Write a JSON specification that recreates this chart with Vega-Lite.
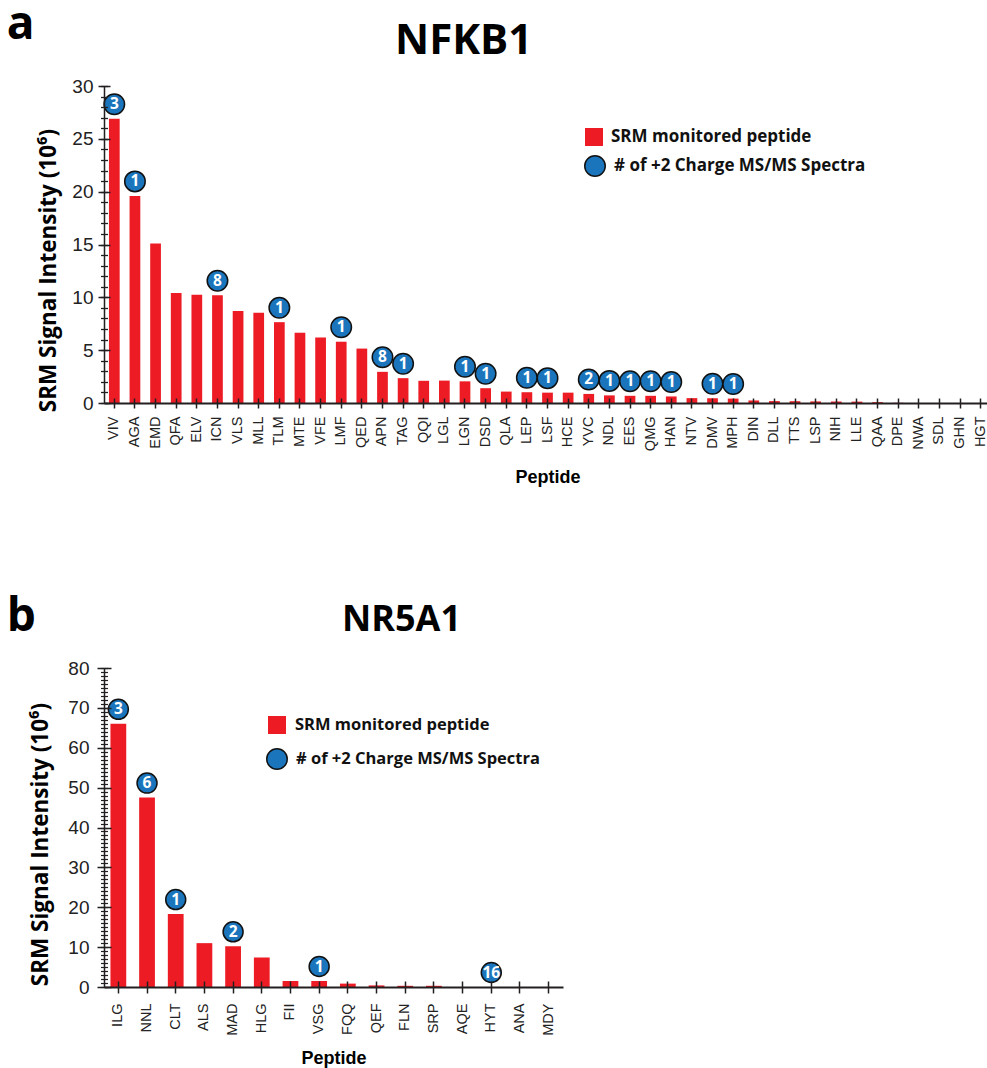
{
  "$schema": "https://vega.github.io/schema/vega-lite/v6.json",
  "padding": {"left": 6, "top": 2, "right": 0, "bottom": 0},
  "background": "white",
  "config": {
    "view": {"stroke": null},
    "axis": {"grid": false},
    "title": {"font": "Open Sans", "fontWeight": "bold", "color": "#000000"}
  },
  "spacing": 107,
  "vconcat": [
    {
      "title": {"text": "a", "anchor": "start", "frame": "bounds", "fontSize": 46, "offset": -29, "dx": -31},
      "vconcat": [
        {
          "title": {"text": "NFKB1", "anchor": "start", "frame": "group", "dx": 291, "fontSize": 42, "offset": 14},
          "width": 887,
          "height": 317,
          "data": {"values": [
            {"peptide": "VIV", "intensity": 26.9, "spectra": 3},
            {"peptide": "AGA", "intensity": 19.6, "spectra": 1},
            {"peptide": "EMD", "intensity": 15.1, "spectra": null},
            {"peptide": "QFA", "intensity": 10.4, "spectra": null},
            {"peptide": "ELV", "intensity": 10.25, "spectra": null},
            {"peptide": "ICN", "intensity": 10.2, "spectra": 8},
            {"peptide": "VLS", "intensity": 8.7, "spectra": null},
            {"peptide": "MLL", "intensity": 8.55, "spectra": null},
            {"peptide": "TLM", "intensity": 7.65, "spectra": 1},
            {"peptide": "MTE", "intensity": 6.65, "spectra": null},
            {"peptide": "VFE", "intensity": 6.2, "spectra": null},
            {"peptide": "LMF", "intensity": 5.8, "spectra": 1},
            {"peptide": "QED", "intensity": 5.15, "spectra": null},
            {"peptide": "APN", "intensity": 2.95, "spectra": 8},
            {"peptide": "TAG", "intensity": 2.35, "spectra": 1},
            {"peptide": "QQI", "intensity": 2.1, "spectra": null},
            {"peptide": "LGL", "intensity": 2.12, "spectra": null},
            {"peptide": "LGN", "intensity": 2.05, "spectra": 1},
            {"peptide": "DSD", "intensity": 1.4, "spectra": 1},
            {"peptide": "QLA", "intensity": 1.08, "spectra": null},
            {"peptide": "LEP", "intensity": 1.02, "spectra": 1},
            {"peptide": "LSF", "intensity": 0.98, "spectra": 1},
            {"peptide": "HCE", "intensity": 0.98, "spectra": null},
            {"peptide": "YVC", "intensity": 0.86, "spectra": 2},
            {"peptide": "NDL", "intensity": 0.72, "spectra": 1},
            {"peptide": "EES", "intensity": 0.68, "spectra": 1},
            {"peptide": "QMG", "intensity": 0.68, "spectra": 1},
            {"peptide": "HAN", "intensity": 0.62, "spectra": 1},
            {"peptide": "NTV", "intensity": 0.46, "spectra": null},
            {"peptide": "DMV", "intensity": 0.45, "spectra": 1},
            {"peptide": "MPH", "intensity": 0.42, "spectra": 1},
            {"peptide": "DIN", "intensity": 0.24, "spectra": null},
            {"peptide": "DLL", "intensity": 0.18, "spectra": null},
            {"peptide": "TTS", "intensity": 0.17, "spectra": null},
            {"peptide": "LSP", "intensity": 0.15, "spectra": null},
            {"peptide": "NIH", "intensity": 0.14, "spectra": null},
            {"peptide": "LLE", "intensity": 0.13, "spectra": null},
            {"peptide": "QAA", "intensity": 0.08, "spectra": null},
            {"peptide": "DPE", "intensity": 0.02, "spectra": null},
            {"peptide": "NWA", "intensity": 0, "spectra": null},
            {"peptide": "SDL", "intensity": 0, "spectra": null},
            {"peptide": "GHN", "intensity": 0, "spectra": null},
            {"peptide": "HGT", "intensity": 0, "spectra": null}
          ]},
          "resolve": {"axis": {"y": "independent"}},
          "layer": [
            {
              "mark": {"type": "bar", "opacity": 1},
              "encoding": {
                "x": {"field": "peptide", "type": "nominal", "sort": null,
                  "scale": {"paddingInner": 0.48, "paddingOuter": 0.24},
                  "axis": {"title": "Peptide", "titleFont": "Liberation Sans", "titleFontSize": 18, "titleFontWeight": "bold", "titleColor": "#000", "titlePadding": 18,
                    "labelAngle": 270, "labelFont": "Liberation Sans", "labelFontSize": 14.5, "labelColor": "#222", "labelPadding": 8,
                    "ticks": true, "tickSize": 5, "tickWidth": 1.5, "tickColor": "#231f20",
                    "grid": true, "gridDash": [5, 4000], "gridDashOffset": -312, "gridColor": "#231f20", "gridWidth": 1.5, "gridOpacity": 1,
                    "zindex": 1, "domainColor": "#231f20", "domainWidth": 2}},
                "y": {"field": "intensity", "type": "quantitative",
                  "scale": {"domain": [0, 30], "nice": false},
                  "axis": {"orient": "left", "values": [0, 5, 10, 15, 20, 25, 30],
                    "ticks": true, "tickSize": 6, "tickWidth": 1.5, "tickColor": "#231f20",
                    "grid": true, "gridDash": [6, 4000], "gridColor": "#231f20", "gridWidth": 1.5, "gridOpacity": 1,
                    "zindex": 1,
                    "labelFont": "Liberation Sans", "labelFontSize": 19, "labelColor": "#222", "labelPadding": 5,
                    "domainColor": "#231f20", "domainWidth": 1.5,
                    "title": "SRM Signal Intensity (10⁶)", "titleFont": "Open Sans", "titleFontSize": 22.5, "titleFontWeight": "bold", "titleColor": "#000", "titleY": 184, "titlePadding": 11}},
                "color": {"datum": "SRM monitored peptide", "type": "nominal",
                  "scale": {"range": ["#ed1c24"]},
                  "legend": {"orient": "none", "legendX": 480, "legendY": 41, "title": null, "padding": 0,
                    "labelFont": "Open Sans", "labelFontSize": 17, "labelFontWeight": "bold", "labelColor": "#111", "labelLimit": 500,
                    "symbolType": "square", "symbolSize": 324, "symbolOpacity": 1, "labelOffset": 7}}
              }
            },
            {
              "transform": [{"filter": "datum.spectra != null"}],
              "mark": {"type": "circle", "size": 420, "opacity": 1, "stroke": "#111111", "strokeWidth": 1.5, "yOffset": -14.5},
              "encoding": {
                "x": {"field": "peptide", "type": "nominal", "sort": null},
                "y": {"field": "intensity", "type": "quantitative",
                  "axis": {"orient": "left", "values": [0,1,2,3,4,5,6,7,8,9,10,11,12,13,14,15,16,17,18,19,20,21,22,23,24,25,26,27,28,29,30],
                    "labels": false, "domain": false, "title": null,
                    "ticks": true, "tickSize": 3.5, "tickWidth": 1.3, "tickColor": "#231f20",
                    "grid": true, "gridDash": [3.5, 4000], "gridColor": "#231f20", "gridWidth": 1.3, "gridOpacity": 1, "zindex": 1}},
                "fill": {"datum": "# of +2 Charge MS/MS Spectra", "type": "nominal",
                  "scale": {"range": ["#1b75bc"]},
                  "legend": {"orient": "none", "legendX": 480, "legendY": 69, "title": null, "padding": 0,
                    "labelFont": "Open Sans", "labelFontSize": 17, "labelFontWeight": "bold", "labelColor": "#111", "labelLimit": 500,
                    "symbolType": "circle", "symbolSize": 420, "symbolOpacity": 1, "symbolStrokeColor": "#111111", "symbolStrokeWidth": 1.5, "labelOffset": 8}}
              }
            },
            {
              "transform": [{"filter": "datum.spectra != null"}],
              "mark": {"type": "text", "color": "white", "font": "Open Sans", "fontWeight": "bold", "fontSize": 15.5, "baseline": "middle", "align": "center", "yOffset": -14.5},
              "encoding": {
                "x": {"field": "peptide", "type": "nominal", "sort": null},
                "y": {"field": "intensity", "type": "quantitative", "axis": null},
                "text": {"field": "spectra", "type": "nominal"}
              }
            }
          ]
        }
      ]
    },
    {
      "title": {"text": "b", "anchor": "start", "frame": "bounds", "fontSize": 46, "offset": -39, "dx": -23},
      "vconcat": [
        {
          "title": {"text": "NR5A1", "anchor": "start", "frame": "group", "dx": 238, "fontSize": 36, "offset": 20},
          "width": 459,
          "height": 319,
          "data": {"values": [
            {"peptide": "ILG", "intensity": 66.0, "spectra": 3},
            {"peptide": "NNL", "intensity": 47.5, "spectra": 6},
            {"peptide": "CLT", "intensity": 18.3, "spectra": 1},
            {"peptide": "ALS", "intensity": 11.0, "spectra": null},
            {"peptide": "MAD", "intensity": 10.2, "spectra": 2},
            {"peptide": "HLG", "intensity": 7.4, "spectra": null},
            {"peptide": "FII", "intensity": 1.5, "spectra": null},
            {"peptide": "VSG", "intensity": 1.5, "spectra": 1},
            {"peptide": "FQQ", "intensity": 0.85, "spectra": null},
            {"peptide": "QEF", "intensity": 0.4, "spectra": null},
            {"peptide": "FLN", "intensity": 0.3, "spectra": null},
            {"peptide": "SRP", "intensity": 0.3, "spectra": null},
            {"peptide": "AQE", "intensity": 0, "spectra": null},
            {"peptide": "HYT", "intensity": 0, "spectra": 16},
            {"peptide": "ANA", "intensity": 0, "spectra": null},
            {"peptide": "MDY", "intensity": 0, "spectra": null}
          ]},
          "resolve": {"axis": {"y": "independent"}},
          "layer": [
            {
              "mark": {"type": "bar", "opacity": 1},
              "encoding": {
                "x": {"field": "peptide", "type": "nominal", "sort": null,
                  "scale": {"paddingInner": 0.45, "paddingOuter": 0.225},
                  "axis": {"title": "Peptide", "titleFont": "Liberation Sans", "titleFontSize": 18, "titleFontWeight": "bold", "titleColor": "#000", "titlePadding": 14,
                    "labelAngle": 270, "labelFont": "Liberation Sans", "labelFontSize": 14.5, "labelColor": "#222", "labelPadding": 10,
                    "ticks": true, "tickSize": 6, "tickWidth": 1.5, "tickColor": "#231f20",
                    "grid": true, "gridDash": [6, 4000], "gridDashOffset": -313, "gridColor": "#231f20", "gridWidth": 1.5, "gridOpacity": 1,
                    "zindex": 1, "domainColor": "#231f20", "domainWidth": 2}},
                "y": {"field": "intensity", "type": "quantitative",
                  "scale": {"domain": [0, 80], "nice": false},
                  "axis": {"orient": "left", "values": [0, 10, 20, 30, 40, 50, 60, 70, 80],
                    "ticks": true, "tickSize": 7, "tickWidth": 1.5, "tickColor": "#231f20",
                    "grid": true, "gridDash": [7, 4000], "gridColor": "#231f20", "gridWidth": 1.5, "gridOpacity": 1,
                    "zindex": 1,
                    "labelFont": "Liberation Sans", "labelFontSize": 19, "labelColor": "#222", "labelPadding": 8,
                    "domainColor": "#231f20", "domainWidth": 1.5,
                    "title": "SRM Signal Intensity (10⁶)", "titleFont": "Open Sans", "titleFontSize": 22.5, "titleFontWeight": "bold", "titleColor": "#000", "titleY": 176, "titlePadding": 15}},
                "color": {"datum": "SRM monitored peptide", "type": "nominal",
                  "scale": {"range": ["#ed1c24"]},
                  "legend": {"orient": "none", "legendX": 163, "legendY": 47, "title": null, "padding": 0,
                    "labelFont": "Open Sans", "labelFontSize": 16.5, "labelFontWeight": "bold", "labelColor": "#111", "labelLimit": 500,
                    "symbolType": "square", "symbolSize": 324, "symbolOpacity": 1, "labelOffset": 8}}
              }
            },
            {
              "transform": [{"filter": "datum.spectra != null"}],
              "mark": {"type": "circle", "size": 400, "opacity": 1, "stroke": "#111111", "strokeWidth": 1.5, "yOffset": -14.5},
              "encoding": {
                "x": {"field": "peptide", "type": "nominal", "sort": null},
                "y": {"field": "intensity", "type": "quantitative",
                  "axis": {"orient": "left", "values": [0,1,2,3,4,5,6,7,8,9,10,11,12,13,14,15,16,17,18,19,20,21,22,23,24,25,26,27,28,29,30,31,32,33,34,35,36,37,38,39,40,41,42,43,44,45,46,47,48,49,50,51,52,53,54,55,56,57,58,59,60,61,62,63,64,65,66,67,68,69,70,71,72,73,74,75,76,77,78,79,80],
                    "labels": false, "domain": false, "title": null,
                    "ticks": true, "tickSize": 3.5, "tickWidth": 1.2, "tickColor": "#231f20",
                    "grid": true, "gridDash": [3.5, 4000], "gridColor": "#231f20", "gridWidth": 1.2, "gridOpacity": 1, "zindex": 1}},
                "fill": {"datum": "# of +2 Charge MS/MS Spectra", "type": "nominal",
                  "scale": {"range": ["#1b75bc"]},
                  "legend": {"orient": "none", "legendX": 162, "legendY": 80, "title": null, "padding": 0,
                    "labelFont": "Open Sans", "labelFontSize": 16.5, "labelFontWeight": "bold", "labelColor": "#111", "labelLimit": 500,
                    "symbolType": "circle", "symbolSize": 420, "symbolOpacity": 1, "symbolStrokeColor": "#111111", "symbolStrokeWidth": 1.5, "labelOffset": 8}}
              }
            },
            {
              "transform": [{"filter": "datum.spectra != null"}],
              "mark": {"type": "text", "color": "white", "font": "Open Sans", "fontWeight": "bold", "fontSize": 15.5, "baseline": "middle", "align": "center", "yOffset": -14.5},
              "encoding": {
                "x": {"field": "peptide", "type": "nominal", "sort": null},
                "y": {"field": "intensity", "type": "quantitative", "axis": null},
                "text": {"field": "spectra", "type": "nominal"}
              }
            }
          ]
        }
      ]
    }
  ],
  "resolve": {"scale": {"color": "independent", "fill": "independent"}, "legend": {"color": "independent", "fill": "independent"}}
}
